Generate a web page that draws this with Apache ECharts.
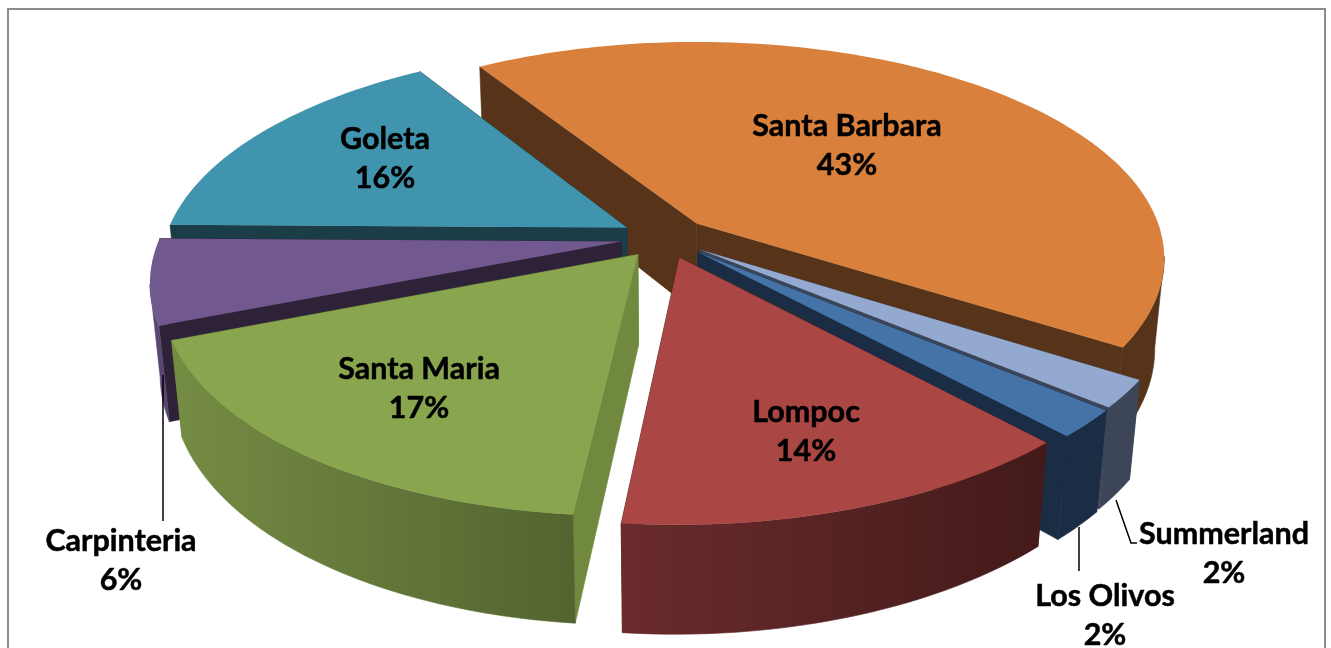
<!DOCTYPE html>
<html style="height: 100%">
<head>
  <meta charset="utf-8">
</head>
<body style="height: 100%; margin: 0; background: #fff">
<div id="container" style="width: 1331px; height: 648px"></div>
<script src="https://cdn.jsdelivr.net/npm/echarts@6/dist/echarts.min.js"></script>
<script>
// data, clockwise from the first slice
var sliceNames = ['Santa Barbara', 'Summerland', 'Los Olivos', 'Lompoc', 'Santa Maria', 'Carpinteria', 'Goleta'];
var sliceValues = [43, 2, 2, 13.5, 17.45, 6.25, 15.8];

// colours per slice
var topColors = ['#d9803c', '#93a9cf', '#4572a7', '#aa4643', '#89a54e', '#71588f', '#4094ae'];
var radialColors = ['#573419', '#3c4658', '#1b2d45', '#451b1b', '#71893f', '#2e2239', '#1a3d48'];
var rimLeft = ['#573419', '#3c4658', '#1b2d45', '#6a2b2c', '#758c43', '#5a4672', '#1a3d48'];
var rimRight = ['#573419', '#3c4658', '#1b2d45', '#431a1a', '#536430', '#5a4672', '#1a3d48'];

// back to front painting order, index into the arrays above
var paintOrder = [0, 1, 2, 3, 6, 5, 4];

// label centres and leader lines in px
var labelAnchors = [[847, 146], [1224, 554], [1105, 616], [806, 432], [419, 389], [121, 561], [385, 159]];
var leaderLines = [
    [[163, 375], [163, 521]],
    [[1079, 527], [1079, 571]],
    [[1116, 500], [1131, 543], [1137, 543]]
];

// 3d look
var firstAngle = -32.3;
var explode = 0.095;
var hub = [-0.068, 0.06];
var sliceRadius = [1, 1.005, 1.007, 1.004, 0.99, 0.99, 0.99];
var view = { x: 697, y: 225, a: 462, b: 211.4, p: 0.1616 };
var drop = { vx: 670, vy: 5000, base: 90, slope: 0.068 };

function toScreen(u, v) {
    var w = 1 - view.p * v;
    return [view.x + view.a * u / w, view.y + view.b * v / w];
}

// the bottom face: lines run down to a vanishing point, nearer means taller
function lower(pt) {
    var h = drop.base + drop.slope * (pt[1] - 240);
    var k = h / (drop.vy - pt[1]);
    return [pt[0] + (drop.vx - pt[0]) * k, pt[1] + (drop.vy - pt[1]) * k];
}

var total = sliceValues.reduce(function (a, b) { return a + b; }, 0);
var startAngles = [];
var acc = firstAngle;
for (var i = 0; i < sliceValues.length; i++) {
    startAngles.push(acc);
    acc += sliceValues[i] / total * 360;
}

function solid(color) {
    // same colour stroke closes the hairline seams between polygons
    return { fill: color, stroke: color, lineWidth: 0.6 };
}

function renderSlice(params, api) {
    var i = params.dataIndex;
    var a0 = startAngles[i];
    var a1 = a0 + api.value(0) / total * 360;
    var mid = (a0 + a1) / 2 * Math.PI / 180;
    var cu = hub[0] + explode * Math.sin(mid);
    var cv = hub[1] - explode * Math.cos(mid);
    var r = sliceRadius[i];

    var arc = [];
    var steps = Math.ceil((a1 - a0) / 1.5);
    for (var s = 0; s <= steps; s++) {
        var t = (a0 + (a1 - a0) * s / steps) * Math.PI / 180;
        arc.push(toScreen(cu + r * Math.sin(t), cv - r * Math.cos(t)));
    }
    var apex = toScreen(cu, cv);
    var first = arc[0];
    var last = arc[arc.length - 1];
    var z = paintOrder.indexOf(i) * 5;

    // only the front of the rim is seen: going clockwise there, x falls
    var front = [];
    for (var k = 0; k < arc.length - 1; k++) {
        if (arc[k + 1][0] < arc[k][0]) {
            if (!front.length) {
                front.push(arc[k]);
            }
            front.push(arc[k + 1]);
        }
    }

    var children = [
        {
            type: 'polygon', z2: z,
            shape: { points: [apex, first, lower(first), lower(apex)] },
            style: solid(radialColors[i])
        },
        {
            type: 'polygon', z2: z + 1,
            shape: { points: [apex, last, lower(last), lower(apex)] },
            style: solid(radialColors[i])
        }
    ];
    if (front.length) {
        var wallFill = new echarts.graphic.LinearGradient(0, 0, 1, 0, [
            { offset: 0, color: rimLeft[i] },
            { offset: 1, color: rimRight[i] }
        ]);
        children.push({
            type: 'polygon', z2: z + 2,
            shape: { points: front.concat(front.map(lower).reverse()) },
            style: { fill: wallFill, stroke: wallFill, lineWidth: 0.6 }
        });
    }
    children.push({
        type: 'polygon', z2: z + 3,
        shape: { points: [apex].concat(arc) },
        style: { fill: topColors[i] }
    });

    return { type: 'group', children: children };
}

var dom = document.getElementById('container');
var myChart = echarts.init(dom);

var labelFont = 'bold 30.5px Lato';
var overlays = [{
    type: 'rect',
    shape: { x: 8, y: 9, width: 1317, height: 660 },
    style: { fill: '#fff', stroke: '#8c8c8c', lineWidth: 2 },
    z: -1
}];
leaderLines.forEach(function (pts) {
    overlays.push({
        type: 'polyline',
        shape: { points: pts },
        style: { fill: null, stroke: '#000', lineWidth: 1.5 },
        z: 10
    });
});
sliceNames.forEach(function (name, i) {
    overlays.push({
        type: 'text',
        x: labelAnchors[i][0],
        y: labelAnchors[i][1],
        style: {
            text: name + '\n' + Math.round(sliceValues[i] / total * 100) + '%',
            font: labelFont,
            fill: '#000',
            stroke: '#000',
            lineWidth: 0.5,
            align: 'center',
            verticalAlign: 'middle',
            lineHeight: 39
        },
        z: 11
    });
});

var option = {
    backgroundColor: '#fff',
    animation: false,
    graphic: { elements: overlays },
    series: [{
        type: 'custom',
        coordinateSystem: 'none',
        renderItem: renderSlice,
        data: sliceValues.map(function (v) { return [v]; }),
        silent: true
    }]
};
myChart.setOption(option);
</script>
</body>
</html>
